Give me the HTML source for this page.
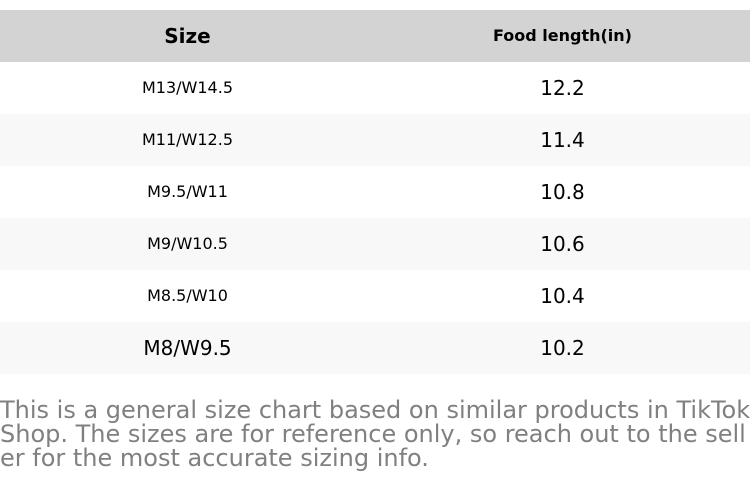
<!DOCTYPE html>
<html><head><meta charset="utf-8"><style>
body{margin:0;width:750px;height:494px;background:#fff;font-family:"DejaVu Sans","Liberation Sans",sans-serif;overflow:hidden;position:relative}
.row{position:absolute;left:0;width:750px;height:52px}
.c{position:absolute;top:0;height:52px;line-height:52px;text-align:center;color:#000}
.l{left:0;width:375px}.r{left:375px;width:375px}
.p{position:absolute;left:0;top:398px;font-size:24px;line-height:24px;color:#808080;white-space:pre}
</style></head><body>
<div class="row" style="top:10px;background:#d3d3d3"><div class="c l" style="font-weight:bold;font-size:20px">Size</div><div class="c r" style="font-weight:bold;font-size:16px">Food length(in)</div></div>
<div class="row" style="top:62px;background:#fff"><div class="c l" style="font-size:16px">M13/W14.5</div><div class="c r" style="font-size:20px">12.2</div></div>
<div class="row" style="top:114px;background:#f8f8f8"><div class="c l" style="font-size:16px">M11/W12.5</div><div class="c r" style="font-size:20px">11.4</div></div>
<div class="row" style="top:166px;background:#fff"><div class="c l" style="font-size:16px">M9.5/W11</div><div class="c r" style="font-size:20px">10.8</div></div>
<div class="row" style="top:218px;background:#f8f8f8"><div class="c l" style="font-size:16px">M9/W10.5</div><div class="c r" style="font-size:20px">10.6</div></div>
<div class="row" style="top:270px;background:#fff"><div class="c l" style="font-size:16px">M8.5/W10</div><div class="c r" style="font-size:20px">10.4</div></div>
<div class="row" style="top:322px;background:#f8f8f8"><div class="c l" style="font-size:20px">M8/W9.5</div><div class="c r" style="font-size:20px">10.2</div></div>
<div class="p">This is a general size chart based on similar products in TikTok
Shop. The sizes are for reference only, so reach out to the sell
er for the most accurate sizing info.</div>
</body></html>
